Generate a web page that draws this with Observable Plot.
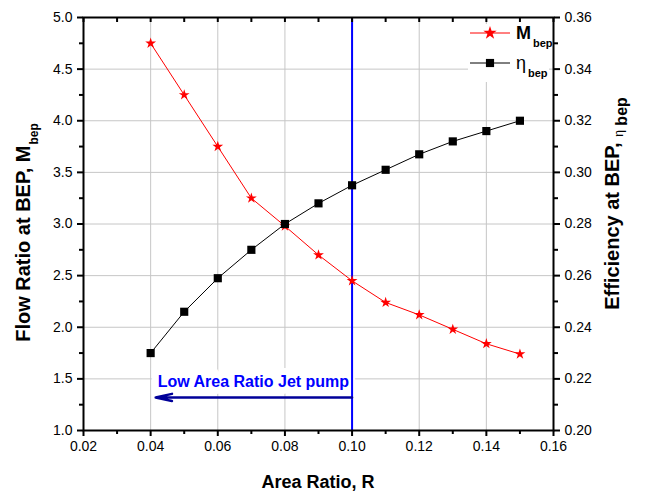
<!DOCTYPE html>
<html>
<head>
<meta charset="utf-8">
<script src="https://cdn.jsdelivr.net/npm/d3@7"></script>
<script src="https://cdn.jsdelivr.net/npm/@observablehq/plot@0.6"></script>
<style>
  html, body { margin: 0; padding: 0; background: #fff; }
  svg { display: block; }
</style>
</head>
<body>
<div id="chart"></div>
<script>
// ---- data ----
const areaRatio  = [0.04, 0.05, 0.06, 0.07, 0.08, 0.09, 0.10, 0.11, 0.12, 0.13, 0.14, 0.15];
const flowRatio  = [4.75, 4.25, 3.75, 3.25, 2.98, 2.70, 2.45, 2.24, 2.12, 1.98, 1.84, 1.74];
const efficiency = [0.230, 0.246, 0.259, 0.270, 0.280, 0.288, 0.295, 0.301, 0.307, 0.312, 0.316, 0.320];

// ---- axes ----
const xTicks     = [0.02, 0.04, 0.06, 0.08, 0.10, 0.12, 0.14, 0.16];
const xMinor     = [0.03, 0.05, 0.07, 0.09, 0.11, 0.13, 0.15];
const xGrid      = [0.04, 0.06, 0.08, 0.10, 0.12, 0.14];
const flowTicks  = [1.0, 1.5, 2.0, 2.5, 3.0, 3.5, 4.0, 4.5, 5.0];
const flowMinor  = [1.25, 1.75, 2.25, 2.75, 3.25, 3.75, 4.25, 4.75];
const flowGrid   = [1.5, 2.0, 2.5, 3.0, 3.5, 4.0, 4.5];
const effTicks   = [0.20, 0.22, 0.24, 0.26, 0.28, 0.30, 0.32, 0.34, 0.36];

// ---- annotation ----
const annotX = 0.10;
const annotLabel = "Low Area Ratio Jet pump";
const annotArrowEnd = 0.0415;
const annotArrowY = 1.32;
const annotTextY = 1.47;

// map efficiency (right axis) into the left-axis units
const flowDom = [flowTicks[0], flowTicks[flowTicks.length - 1]];
const effDom = [effTicks[0], effTicks[effTicks.length - 1]];
const effToFlow = e => flowDom[0] + (e - effDom[0]) / (effDom[1] - effDom[0]) * (flowDom[1] - flowDom[0]);
const flowToEff = f => effDom[0] + (f - flowDom[0]) / (flowDom[1] - flowDom[0]) * (effDom[1] - effDom[0]);

const mData = areaRatio.map((x, i) => ({x, y: flowRatio[i]}));
const eData = areaRatio.map((x, i) => ({x, y: effToFlow(efficiency[i])}));

const W = 645, H = 493;
const mL = 83, mR = 92, mT = 17, mB = 63;
const font = "'Liberation Sans', Arial, Helvetica, sans-serif";

const plot = Plot.plot({
  width: W, height: H,
  marginLeft: mL, marginRight: mR, marginTop: mT, marginBottom: mB,
  style: {fontFamily: font, fontSize: "14px", color: "#000", background: "#fff"},
  x: {domain: [xTicks[0], xTicks[xTicks.length - 1]]},
  y: {domain: flowDom},
  marks: [
    Plot.gridX(xGrid, {stroke: "#c6c6c6", strokeOpacity: 1, strokeWidth: 1}),
    Plot.gridY(flowGrid, {stroke: "#c6c6c6", strokeOpacity: 1, strokeWidth: 1}),
    Plot.text([{x: annotArrowEnd, y: annotTextY, t: annotLabel}], {
      x: "x", y: "y", text: "t", textAnchor: "start", dx: 2,
      fill: "#0000ff", fontWeight: "bold", fontSize: 16,
      stroke: "#fff", strokeWidth: 14, strokeLinejoin: "miter"
    }),
    Plot.ruleX([annotX], {stroke: "#0000ff", strokeWidth: 2}),
    Plot.arrow([{x1: annotX, x2: annotArrowEnd, y: annotArrowY}], {
      x1: "x1", x2: "x2", y1: "y", y2: "y",
      stroke: "#000099", strokeWidth: 2.5, headLength: 10, headAngle: 25
    }),
    Plot.line(mData, {x: "x", y: "y", stroke: "#ff0000", strokeWidth: 1}),
    Plot.dot(mData, {x: "x", y: "y", symbol: "star", fill: "#ff0000", stroke: "none", r: 3.4}),
    Plot.line(eData, {x: "x", y: "y", stroke: "#000", strokeWidth: 1}),
    Plot.dot(eData, {x: "x", y: "y", symbol: "square", fill: "#000", stroke: "none", r: 4.6}),
    // bottom axis
    Plot.axisX(xTicks, {anchor: "bottom", tickSize: 6, tickPadding: 5, strokeWidth: 2,
      tickFormat: d => d.toFixed(2), label: null, fontSize: 14}),
    Plot.axisX(xMinor, {anchor: "bottom", tickSize: 4, strokeWidth: 2, tickFormat: () => "", label: null}),
    // top inward ticks
    Plot.tickX(xTicks.concat(xMinor), {x: d => d, insetBottom: H - mT - mB - 5, stroke: "#000", strokeWidth: 2}),
    // left axis
    Plot.axisY(flowTicks, {anchor: "left", tickSize: 6, tickPadding: 5, strokeWidth: 2,
      tickFormat: d => d.toFixed(1), label: null, fontSize: 14}),
    Plot.axisY(flowMinor, {anchor: "left", tickSize: 4, strokeWidth: 2, tickFormat: () => "", label: null}),
    // right axis (efficiency)
    Plot.axisY(flowTicks, {anchor: "right", tickSize: 6, tickPadding: 5, strokeWidth: 2,
      tickFormat: d => flowToEff(d).toFixed(2), label: null, fontSize: 14}),
    Plot.axisY(flowMinor, {anchor: "right", tickSize: 4, strokeWidth: 2, tickFormat: () => "", label: null}),
    Plot.frame({stroke: "#000", strokeWidth: 2})
  ]
});

document.getElementById("chart").appendChild(plot);

// ---- titles & legend ----
const svg = d3.select(plot);
const xs = plot.scale("x"), ys = plot.scale("y");
const px0 = xs.range[0], px1 = xs.range[1];
const pyB = ys.range[0], pyT = ys.range[1];
const cx = (px0 + px1) / 2, cy = (pyB + pyT) / 2;

const g = svg.append("g").attr("font-family", font).attr("fill", "#000");

// x title
g.append("text").attr("x", cx).attr("y", H - 5).attr("text-anchor", "middle")
  .attr("font-size", 18).attr("font-weight", "bold").text("Area Ratio, R");

// left title
const lt = g.append("text").attr("transform", `translate(${px0 - 53},${cy + 9}) rotate(-90)`)
  .attr("text-anchor", "middle").attr("font-size", 20).attr("font-weight", "bold");
lt.append("tspan").text("Flow Ratio at BEP, M");
lt.append("tspan").attr("font-size", 12).attr("dy", 8).attr("dx", 1).text("bep");

// right title
const rt = g.append("text").attr("transform", `translate(${px1 + 66},${cy - 20}) rotate(-90)`)
  .attr("text-anchor", "middle").attr("font-size", 20).attr("font-weight", "bold");
rt.append("tspan").text("Efficiency at BEP, ");
rt.append("tspan").attr("font-size", 12).attr("font-weight", "normal").attr("dy", 4).text("η");
rt.append("tspan").attr("font-size", 16).attr("dy", 4).text(" bep");

// legend
const lg = svg.append("g").attr("font-family", font).attr("text-anchor", "start");
const lx = px1 - 83, ly = pyT + 16;
lg.append("rect").attr("x", lx - 2).attr("y", pyT + 7).attr("width", 81).attr("height", 58).attr("fill", "#fff");
const rows = [
  {color: "#ff0000", sym: d3.symbolStar, r: 4.2, main: "M", mainWeight: "bold"},
  {color: "#000", sym: d3.symbolSquare, r: 4.6, main: "η", mainWeight: "normal"}
];
rows.forEach((row, i) => {
  const y = ly + i * 30;
  lg.append("line").attr("x1", lx).attr("x2", lx + 40).attr("y1", y).attr("y2", y)
    .attr("stroke", row.color).attr("stroke-width", 1);
  lg.append("path").attr("transform", `translate(${lx + 20},${y})`)
    .attr("d", d3.symbol(row.sym, Math.PI * row.r * row.r)()).attr("fill", row.color);
  const t = lg.append("text").attr("x", lx + 46).attr("y", y + 6).attr("font-size", 18)
    .attr("fill", "#000").attr("text-anchor", "start");
  t.append("tspan").attr("font-weight", row.mainWeight).text(row.main);
  t.append("tspan").attr("font-size", 11).attr("font-weight", "bold").attr("dy", 8).attr("dx", 2).text("bep");
});
</script>
</body>
</html>
